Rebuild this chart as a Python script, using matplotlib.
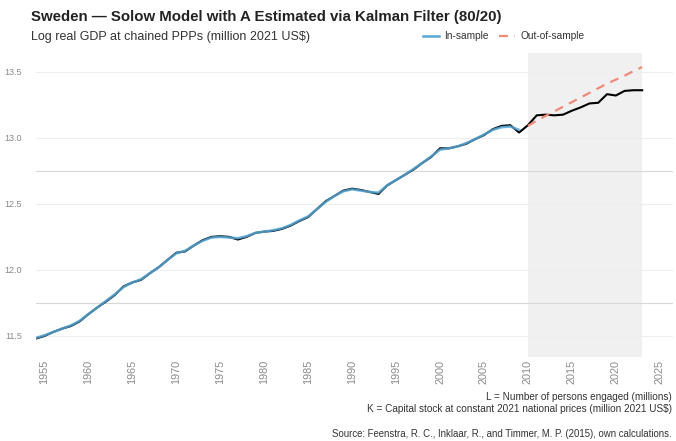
import matplotlib
matplotlib.use("Agg")
import matplotlib.pyplot as plt
from matplotlib.lines import Line2D

### Data (log real GDP, Sweden)
years = list(range(1954, 2024))
actual = [11.48, 11.50, 11.53, 11.555, 11.575, 11.61, 11.665, 11.715, 11.76, 11.81,
          11.875, 11.905, 11.925, 11.975, 12.02, 12.075, 12.13, 12.14, 12.185, 12.225,
          12.25, 12.255, 12.25, 12.23, 12.25, 12.28, 12.29, 12.295, 12.31, 12.335,
          12.37, 12.40, 12.46, 12.52, 12.56, 12.60, 12.615, 12.605, 12.59, 12.575,
          12.64, 12.68, 12.72, 12.76, 12.81, 12.855, 12.92, 12.92, 12.935, 12.955,
          12.99, 13.02, 13.065, 13.09, 13.095, 13.04, 13.095, 13.17, 13.175, 13.17,
          13.175, 13.205, 13.23, 13.26, 13.265, 13.33, 13.32, 13.355, 13.36, 13.36]

in_years = list(range(1954, 2010))
in_fit = [11.485, 11.505, 11.53, 11.555, 11.58, 11.615, 11.665, 11.715, 11.765, 11.815,
          11.87, 11.905, 11.93, 11.975, 12.02, 12.075, 12.125, 12.145, 12.185, 12.22,
          12.245, 12.25, 12.245, 12.24, 12.255, 12.28, 12.29, 12.30, 12.315, 12.34,
          12.375, 12.405, 12.46, 12.515, 12.56, 12.595, 12.61, 12.60, 12.59, 12.585,
          12.64, 12.68, 12.72, 12.765, 12.81, 12.86, 12.91, 12.92, 12.935, 12.96,
          12.99, 13.025, 13.06, 13.08, 13.085, 13.06]

out_years = list(range(2010, 2024))
out_fit = [13.09, 13.13, 13.165, 13.20, 13.235, 13.27, 13.305, 13.34, 13.375, 13.41,
           13.44, 13.47, 13.505, 13.535]

test_start, test_end = 2010, 2023
y_ticks = [11.5, 12.0, 12.5, 13.0, 13.5]
x_ticks = list(range(1955, 2030, 5))

plt.rcParams['font.family'] = ['Liberation Sans', 'DejaVu Sans']

fig = plt.figure(figsize=(6.76, 4.41), dpi=100)
ax = fig.add_axes([0.0527, 0.1905, 0.9428, 0.6900])

ax.axvspan(test_start, test_end, color='#f0f0f0', lw=0)
ax.plot(years, actual, color='black', lw=1.5, zorder=2)
ax.plot(in_years, in_fit, color='#56a8d8', lw=1.8, alpha=0.85, zorder=3)
ax.plot(out_years, out_fit, color='#f08a78', lw=1.6, ls=(0, (4, 3)), zorder=3)

ax.set_xlim(1954, 2026.5)
ax.set_ylim(11.341, 13.644)
ax.set_xticks(x_ticks)
ax.set_xticklabels([str(x) for x in x_ticks], rotation=90)
ax.set_yticks(y_ticks)
ax.set_yticklabels([f"{v:.1f}" for v in y_ticks])
ax.set_yticks([11.75, 12.75], minor=True)
ax.tick_params(axis='both', which='both', length=0, labelcolor='#8a8a8a')
ax.tick_params(axis='y', labelsize=6.5, pad=10)
ax.tick_params(axis='x', labelsize=7.8, pad=2)
ax.grid(axis='y', which='major', color='#eeeeee', lw=0.8)
ax.grid(axis='y', which='minor', color='#d8d8d8', lw=0.8)
ax.grid(axis='x', visible=False)
for s in ax.spines.values():
    s.set_visible(False)

fig.text(0.046, 0.962, "Sweden \u2014 Solow Model with A Estimated via Kalman Filter (80/20)",
         fontsize=10.8, fontweight='bold', color='#222222', va='center')
fig.text(0.046, 0.916, "Log real GDP at chained PPPs (million 2021 US$)",
         fontsize=9, color='#333333', va='center')

handles = [Line2D([], [], color='#56a8d8', lw=1.8),
           Line2D([], [], color='#f08a78', lw=1.6, ls=(0, (4, 3)))]
fig.legend(handles, ['In-sample', 'Out-of-sample'], loc='center left',
           bbox_to_anchor=(0.612, 0.918), ncol=2, frameon=False, fontsize=7.3,
           handlelength=1.6, handletextpad=0.5, columnspacing=1.0, labelcolor='#333333')

fig.text(0.994, 0.087, "L = Number of persons engaged (millions)\n"
         "K = Capital stock at constant 2021 national prices (million 2021 US$)",
         fontsize=7.2, color='#333333', ha='right', va='center', linespacing=1.25)
fig.text(0.994, 0.016, "Source: Feenstra, R. C., Inklaar, R., and Timmer, M. P. (2015), own calculations.",
         fontsize=6.9, color='#333333', ha='right', va='center')

fig.savefig("out.png", dpi=100)
